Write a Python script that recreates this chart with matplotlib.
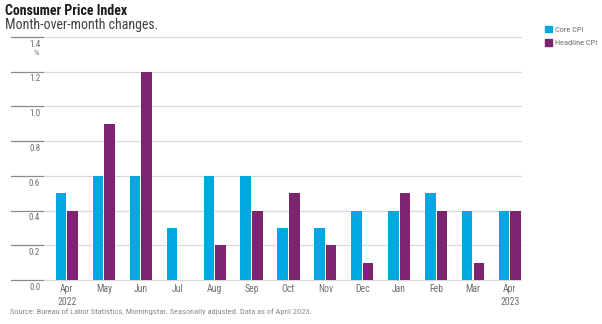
import matplotlib
matplotlib.use('Agg')
import matplotlib.pyplot as plt
from matplotlib import font_manager
from matplotlib.patches import Patch
import numpy as np

months = ['Apr', 'May', 'Jun', 'Jul', 'Aug', 'Sep', 'Oct', 'Nov', 'Dec', 'Jan', 'Feb', 'Mar', 'Apr']
years = {0: '2022', 12: '2023'}
core_cpi = [0.5, 0.6, 0.6, 0.3, 0.6, 0.6, 0.3, 0.3, 0.4, 0.4, 0.5, 0.4, 0.4]
headline_cpi = [0.4, 0.9, 1.2, 0.0, 0.2, 0.4, 0.5, 0.2, 0.1, 0.5, 0.4, 0.1, 0.4]
yticks = [0.0, 0.2, 0.4, 0.6, 0.8, 1.0, 1.2, 1.4]

# pick a condensed face if one is around
installed = {f.name for f in font_manager.fontManager.ttflist}
narrow = 'Roboto'
for name in ['Roboto Condensed', 'Barlow Semi Condensed', 'Archivo Narrow', 'Barlow Condensed']:
    if name in installed:
        narrow = name
        break
plt.rcParams['font.family'] = [narrow, 'DejaVu Sans']

core_color = '#00A8E1'
head_color = '#7E2370'
grid_color = '#DADADA'
label_color = '#6E6E6E'

fig = plt.figure(figsize=(6.02, 3.24), dpi=100)
W, H = 602, 324
left, right, bottom, top = 11, 521, 280, 37
ax = fig.add_axes([left / W, 1 - bottom / H, (right - left) / W, (bottom - top) / H])

x = np.arange(len(months))
w = 0.285
gap = 0.03
ax.bar(x - gap / 2 - w / 2, core_cpi, w, color=core_color, zorder=3)
ax.bar(x + gap / 2 + w / 2, headline_cpi, w, color=head_color, zorder=3)

ax.set_xlim(-1.515, 12.30)
ax.set_ylim(0, 1.4)
for s in ax.spines.values():
    s.set_visible(False)
ax.set_xticks([])
ax.set_yticks([])

# gridlines: light across the plot, darker stub under the tick labels
stub = 32 / (right - left)
for v in yticks:
    ax.axhline(v, xmin=stub, xmax=1, color=grid_color, lw=0.9, zorder=1, clip_on=False)
    ax.axhline(v, xmin=0, xmax=stub, color='#8C8C8C', lw=0.9, zorder=1, clip_on=False)
    ax.annotate(f'{v:.1f}', xy=(stub, v), xycoords=('axes fraction', 'data'),
                xytext=(-2, -2), textcoords='offset points', ha='right', va='top',
                fontsize=6.5, color=label_color)
ax.annotate('%', xy=(stub, 1.4), xycoords=('axes fraction', 'data'),
            xytext=(-3, -9.5), textcoords='offset points', ha='right', va='top',
            fontsize=6, color=label_color)

for i, m in enumerate(months):
    lbl = m + ('\n' + years[i] if i in years else '')
    ax.annotate(lbl, xy=(i, 0), xycoords='data', xytext=(0, -3),
                textcoords='offset points', ha='center', va='top',
                fontsize=7, color=label_color, linespacing=1.3)

fig.text(5 / W, 1 - 4 / H, 'Consumer Price Index', fontsize=10, fontweight='bold',
         color='#1A1A1A', ha='left', va='top')
fig.text(5 / W, 1 - 18 / H, 'Month-over-month changes.', fontsize=10,
         color='#404040', ha='left', va='top')
fig.text(10 / W, 1 - 308 / H, 'Source: Bureau of Labor Statistics, Morningstar. '
         'Seasonally adjusted. Data as of April 2023.', fontsize=6,
         color='#8A8A8A', ha='left', va='top')

handles = [Patch(color=core_color, label='Core CPI'),
           Patch(color=head_color, label='Headline CPI')]
leg = fig.legend(handles=handles, loc='upper left', bbox_to_anchor=(545 / W, 1 - 26 / H),
                 frameon=False, fontsize=6, handlelength=0.8, handleheight=0.8,
                 handletextpad=0.4, labelspacing=0.75, borderaxespad=0, borderpad=0)
for t in leg.get_texts():
    t.set_color(label_color)

fig.savefig('out.png', dpi=100, facecolor='white')
